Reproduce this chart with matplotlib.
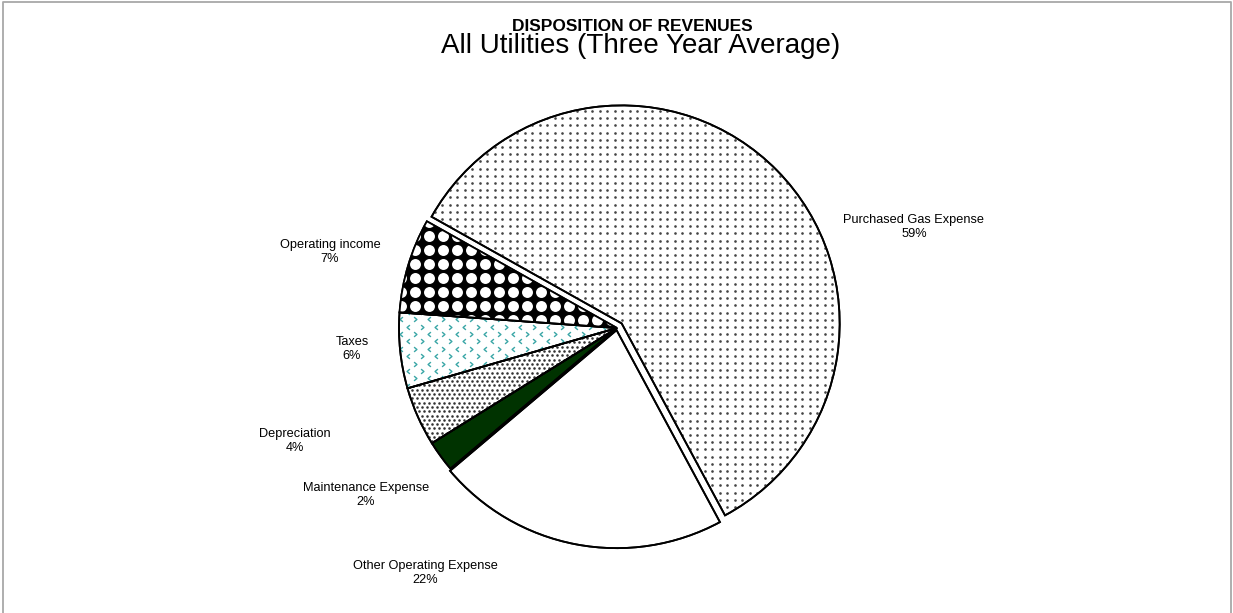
import numpy as np
import matplotlib
matplotlib.use('Agg')
import matplotlib.pyplot as plt
from matplotlib.patches import Wedge
from matplotlib.path import Path
from matplotlib.lines import Line2D

plt.rcParams['font.family'] = ['Liberation Sans', 'DejaVu Sans']

# slices, clockwise from the top-left edge of the big slice
categories = ['Purchased Gas Expense', 'Other Operating Expense', 'Maintenance Expense',
              'Depreciation', 'Taxes', 'Operating income']
shares = [59.0, 21.7, 2.3, 4.4, 5.6, 7.0]
explode = [0.03, 0.01, 0, 0, 0, 0]

W, H = 1233, 613
fig = plt.figure(figsize=(W / 100, H / 100), dpi=100)

# pie axes: 1 data unit = radius in pixels
cx, cy, r = 617, 328, 218
span = 1.25
ax = fig.add_axes([(cx - span * r) / W, 1 - (cy + span * r) / H, 2 * span * r / W, 2 * span * r / H])

fills = ['white', 'white', '#003300', 'white', 'white', 'black']
wedges, _ = ax.pie(shares, explode=explode, startangle=150.7, counterclock=False,
                   colors=fills, radius=1,
                   wedgeprops=dict(edgecolor='black', linewidth=1.3))
ax.set_xlim(-span, span)
ax.set_ylim(-span, span)
ax.set_aspect('auto')
ax.axis('off')


def grid(sx, sy, stagger):
    # pattern grid given in pixels
    xs = np.arange(-span, span, sx / r)
    ys = np.arange(-span, span, sy / r)
    gx, gy = np.meshgrid(xs, ys)
    if stagger:
        gx[1::2] += sx / r / 2
    return gx, gy


def dots(wedge, sx, sy, stagger, **kw):
    gx, gy = grid(sx, sy, stagger)
    sc = ax.scatter(gx.ravel(), gy.ravel(), linewidths=0, zorder=3, **kw)
    sc.set_clip_path(wedge)


# purchased gas: sparse grey dots
dots(wedges[0], 7.5, 7.2, False, s=3.6, color='#444444')
# depreciation: dense dots
dots(wedges[3], 5.0, 4.3, True, s=3.4, color='#333333')
# operating income: white blobs on black
dots(wedges[5], 14, 14, False, s=62, color='white', marker='o')

# taxes: teal chevrons
teal = '#3aa6a6'
left = Path([(0.6, 1), (-0.6, 0), (0.6, -1)], [Path.MOVETO, Path.LINETO, Path.LINETO])
right = Path([(-0.6, 1), (0.6, 0), (-0.6, -1)], [Path.MOVETO, Path.LINETO, Path.LINETO])
gx, gy = grid(14, 7.4, True)
for k, mk in enumerate([left, right]):
    ln, = ax.plot(gx[:, k::2].ravel(), gy[:, k::2].ravel(), ls='none', marker=mk,
                  ms=3.4, mew=1.0, mec=teal, mfc='none', zorder=3)
    ln.set_clip_path(wedges[4])

# outlines on top of the patterns
for w in wedges:
    ax.add_patch(Wedge(w.center, w.r, w.theta1, w.theta2, fill=False,
                       ec='black', lw=1.3, zorder=5))

# slice labels
label_pos = [(914, 227), (425, 573), (366, 495), (295, 441), (352, 349), (330, 252)]
for name, v, (lx, ly) in zip(categories, shares, label_pos):
    fig.text(lx / W, 1 - ly / H, f'{name}\n{round(v):d}%', ha='center', va='center',
             fontsize=9.2, linespacing=1.12, color='black')

fig.text(632 / W, 1 - 26.5 / H, 'DISPOSITION OF REVENUES', ha='center', va='center',
         fontsize=12.5, fontweight='bold')
fig.text(641 / W, 1 - 46 / H, 'All Utilities (Three Year Average)', ha='center',
         va='center', fontsize=20)

# thin grey frame (left, top, right)
fig.add_artist(Line2D([2.5 / W, 2.5 / W, (W - 2) / W, (W - 2) / W],
                      [0, 1 - 1.5 / H, 1 - 1.5 / H, 0],
                      color='#a8a8a8', lw=1.3, transform=fig.transFigure))

fig.savefig('out.png', dpi=100)
